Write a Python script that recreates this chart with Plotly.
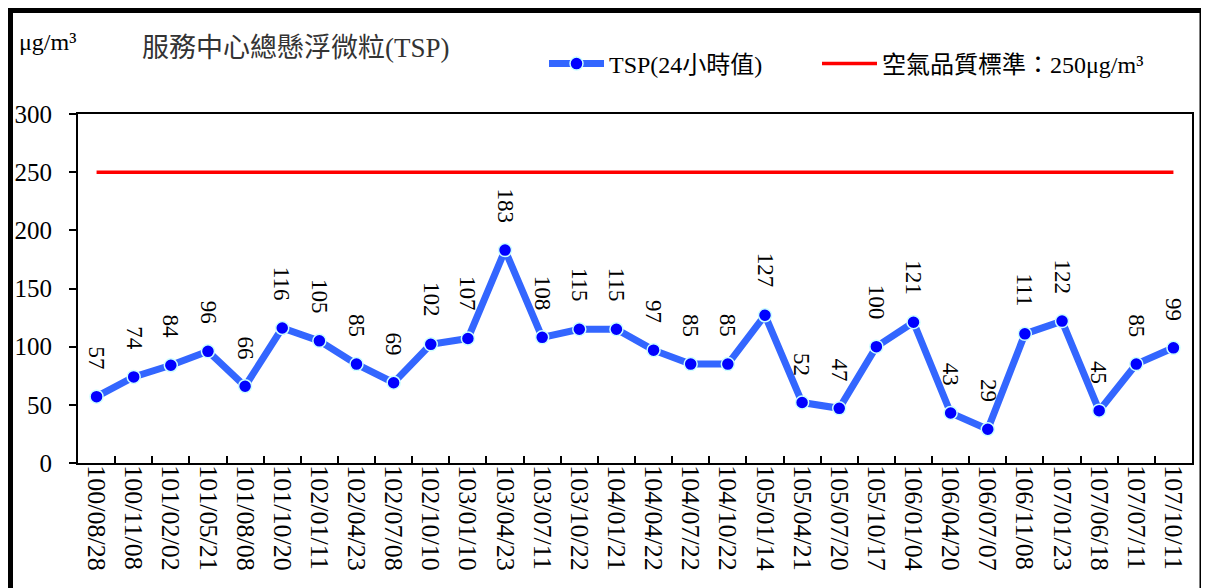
import plotly.graph_objects as go

dates = ["100/08/28", "100/11/08", "101/02/02", "101/05/21", "101/08/08", "101/10/20",
         "102/01/11", "102/04/23", "102/07/08", "102/10/10", "103/01/10", "103/04/23",
         "103/07/11", "103/10/22", "104/01/21", "104/04/22", "104/07/22", "104/10/22",
         "105/01/14", "105/04/21", "105/07/20", "105/10/17", "106/01/04", "106/04/20",
         "106/07/07", "106/11/08", "107/01/23", "107/06/18", "107/07/11", "107/10/11"]
tsp_values = [57, 74, 84, 96, 66, 116, 105, 85, 69, 102, 107, 183, 108, 115, 115, 97,
              85, 85, 127, 52, 47, 100, 121, 43, 29, 111, 122, 45, 85, 99]
standard_value = 250
y_ticks = [0, 50, 100, 150, 200, 250, 300]

series_name = "TSP(24小時值)"
standard_name = "空氣品質標準：250μg/m³"
chart_title = "服務中心總懸浮微粒(TSP)"
unit_label = "μg/m³"

FONT = "Liberation Serif, Times New Roman, Noto Sans CJK TC, serif"
# page body has an 8px margin: the figure starts at screen (8, 8)
OX, OY = 8, 8
SW, SH = 1209, 588
W, H = SW - OX, SH - OY
# plot area in screen pixels
PL, PR, PT, PB = 78, 1192, 114, 463
L, R, T, B = PL - OX, W - (PR - OX), PT - OY, H - (PB - OY)
pw, ph = W - L - R, H - T - B


def px(sx):
    return (sx - PL) / pw


def py(sy):
    return (PB - sy) / ph


def cx(sx):
    return (sx - OX) / W


def cy(sy):
    return 1 - (sy - OY) / H


fig = go.Figure()
fig.add_trace(go.Scatter(
    x=dates, y=tsp_values, mode="lines+markers", name=series_name,
    line=dict(color="#3366FF", width=7),
    marker=dict(color="#0000FF", size=13, line=dict(color="#CCFFFF", width=1.5)),
    legend="legend",
))
fig.add_trace(go.Scatter(
    x=dates, y=[standard_value] * len(dates), mode="lines", name=standard_name,
    line=dict(color="#FF0000", width=3.5),
    legend="legend2",
))

annotations = []
for d, v in zip(dates, tsp_values):
    annotations.append(dict(
        x=d, y=v, xref="x", yref="y", text=str(v), showarrow=False,
        textangle=90, xanchor="center", yanchor="bottom", yshift=25,
        font=dict(family=FONT, size=23, color="black"),
    ))
annotations.append(dict(
    x=px(17), y=py(42), xref="paper", yref="paper", text=unit_label, showarrow=False,
    xanchor="left", yanchor="middle",
    font=dict(family=FONT, size=24, color="black"),
))
annotations.append(dict(
    x=px(140), y=py(48), xref="paper", yref="paper", text=chart_title, showarrow=False,
    xanchor="left", yanchor="middle",
    font=dict(family=FONT, size=27, color="#333333"),
))

shapes = [
    dict(type="line", xref="paper", yref="paper", x0=px(10), x1=px(10), y0=py(10), y1=py(620),
         line=dict(color="black", width=6)),
    dict(type="line", xref="paper", yref="paper", x0=px(7), x1=px(1204), y0=py(10), y1=py(10),
         line=dict(color="black", width=6)),
    dict(type="line", xref="paper", yref="paper", x0=px(1201.5), x1=px(1201.5), y0=py(10), y1=py(620),
         line=dict(color="black", width=4)),
]

legend_common = dict(
    orientation="h", xref="container", yref="container",
    xanchor="left", yanchor="middle",
    font=dict(family=FONT, size=24, color="black"),
    itemwidth=55, bgcolor="rgba(0,0,0,0)",
)

fig.update_layout(
    width=W, height=H,
    margin=dict(l=L, r=R, t=T, b=B, autoexpand=False),
    paper_bgcolor="white", plot_bgcolor="white",
    font=dict(family=FONT, size=24, color="black"),
    showlegend=True,
    legend=dict(x=cx(544), y=cy(64), **legend_common),
    legend2=dict(x=cx(817), y=cy(64), **legend_common),
    xaxis=dict(
        type="category", range=[-0.5, len(dates) - 0.5], automargin=False,
        showline=True, linecolor="black", linewidth=2, mirror=True,
        ticks="inside", tickson="boundaries", ticklen=7, tickwidth=2, tickcolor="black",
        tickangle=90, tickfont=dict(family=FONT, size=26, color="black"),
        ticklabelstandoff=-5,
        showgrid=False, zeroline=False,
    ),
    yaxis=dict(
        range=[0, 300], tickvals=y_ticks, automargin=False,
        showline=True, linecolor="black", linewidth=2, mirror=True,
        ticks="outside", ticklen=7, tickwidth=2, tickcolor="black",
        tickfont=dict(family=FONT, size=25, color="black"),
        ticklabelstandoff=12,
        showgrid=False, zeroline=False,
    ),
    annotations=annotations,
    shapes=shapes,
)

fig.write_html("out.html")
